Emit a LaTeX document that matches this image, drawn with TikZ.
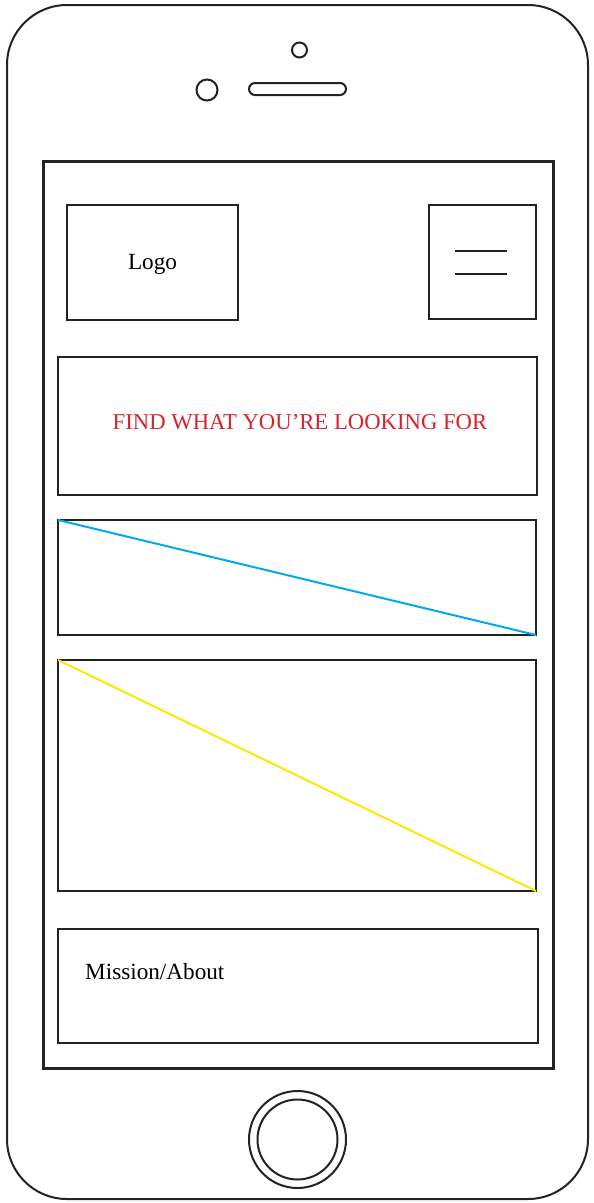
\documentclass[tikz,border=0pt]{standalone}
\usepackage{fontspec}
\setmainfont{Liberation Serif}
\definecolor{inkgray}{RGB}{35,35,35}
\definecolor{findred}{RGB}{218,35,45}
\definecolor{diagblue}{RGB}{0,170,235}
\definecolor{diagyellow}{RGB}{255,232,0}
\begin{document}
\begin{tikzpicture}[x=1pt,y=-1pt,
  box/.style={draw=inkgray, line width=2pt, inner sep=0pt, outer sep=0pt, anchor=north west},
  label/.style={font=\fontsize{23.2}{27}\selectfont, inner sep=0pt},
  bezel/.style={draw=inkgray, line width=2pt}]
\useasboundingbox[fill=white] (0,0) rectangle (594,1203);
% phone body
\node[box, rounded corners=60pt, minimum width=581pt, minimum height=1194pt] (phone) at (7,5) {};
% camera, sensor, speaker
\node[bezel, circle, minimum size=15pt, inner sep=0pt] (camera) at (299.5,50) {};
\node[bezel, circle, minimum size=21pt, inner sep=0pt] (sensor) at (207,90) {};
\node[bezel, rounded corners=6pt, minimum width=97pt, minimum height=12pt, inner sep=0pt] (speaker) at (297.5,89) {};
% screen
\node[box, line width=3pt, minimum width=510pt, minimum height=907pt] (screen) at (43,161) {};
% logo
\node[box, minimum width=171pt, minimum height=115pt] (logo) at (67,205) {};
\node[label] (logotext) at ([yshift=-1.5pt]logo.center) {Logo};
% menu
\node[box, minimum width=107pt, minimum height=114pt] (menu) at (429,205) {};
\coordinate (m1a) at (455,251); \coordinate (m1b) at (507,251);
\coordinate (m2a) at (455,274); \coordinate (m2b) at (507,274);
\draw[inkgray, line width=2pt] (m1a) -- (m1b);
\draw[inkgray, line width=2pt] (m2a) -- (m2b);
% banner
\node[box, minimum width=479pt, minimum height=138pt] (banner) at (58,357) {};
\node[label, font=\fontsize{22.7}{27}\selectfont, text=findred] (find) at (300,422) {FIND WHAT YOU’RE LOOKING FOR};
% image placeholders
\node[box, minimum width=478pt, minimum height=115pt] (img1) at (58,520) {};
\draw[diagblue, line width=2pt] (img1.north west) -- (img1.south east);
\node[box, minimum width=478pt, minimum height=231pt] (img2) at (58,660) {};
\draw[diagyellow, line width=2pt] (img2.north west) -- (img2.south east);
% mission
\node[box, minimum width=480pt, minimum height=114pt] (mission) at (58,929) {};
\node[label, anchor=west] (missiontext) at (85,972) {Mission/About};
% home button
\node[bezel, circle, minimum size=97pt, inner sep=0pt] (home) at (297.5,1139.5) {};
\node[bezel, circle, minimum size=80pt, inner sep=0pt] (homein) at (home.center) {};
\end{tikzpicture}
\end{document}
